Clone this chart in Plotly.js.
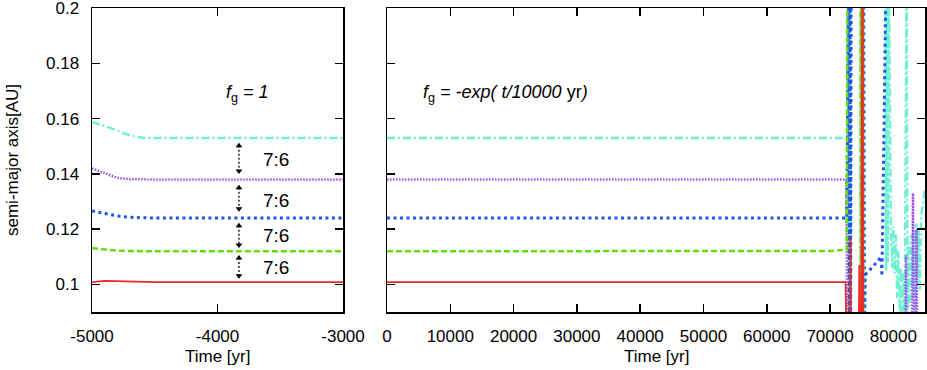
<!DOCTYPE html>
<html>
<head>
<meta charset="utf-8">
<script src="https://cdn.plot.ly/plotly-3.0.1.min.js"></script>
<style>
  html, body { margin: 0; padding: 0; background: #fff; }
  #chart { width: 927px; height: 370px; }
</style>
</head>
<body>
<div id="chart"></div>
<script>
/* ── data: left panel, f_g = 1 ─────────────────────────────── */
const tLeft = [-5000, -4900, -4800, -4700, -4600, -4500, -3000];
const aLeftRed    = [0.1008, 0.1013, 0.1012, 0.1010, 0.1009, 0.1008, 0.1008];
const aLeftGreen  = [0.1131, 0.1126, 0.1122, 0.1121, 0.1120, 0.1120, 0.1120];
const aLeftBlue   = [0.1266, 0.1256, 0.1248, 0.1243, 0.1241, 0.1240, 0.1240];
const aLeftPurple = [0.1420, 0.1402, 0.1386, 0.1381, 0.1380, 0.1380, 0.1380];
const aLeftCyan   = [0.1588, 0.1574, 0.1557, 0.1540, 0.1531, 0.1530, 0.1530];

/* ── data: right panel, f_g = -exp(t/10000 yr) ─────────────── */
const tRightRed = [0, 72450, 72560, 73150, 73200, 73260, 74550, 74620, 74680, 74950, 75020, 75060, 75100, 75140, 75180, 75220];
const aRightRed = [0.1008, 0.1008, 0.085, 0.085, 0.117, 0.085, 0.085, 0.107, 0.085, 0.085, 0.22, 0.088, 0.22, 0.088, 0.22, 0.085];

const tRightGreen = [0, 70000, 72550, 72650, 72750, 74800, 74850, 74900, 74950, 75000, 75050, 75100, 75150, 75200, 75250];
const aRightGreen = [0.1120, 0.1121, 0.1126, 0.1126, 0.22, 0.22, 0.085, 0.22, 0.085, 0.22, 0.085, 0.22, 0.085, 0.22, 0.085];

const tRightBlue = [0, 72560, 72650, 72950, 73050, 73150, 73250, 73350, 75300, 75350, 75400, 75450, 75550, 76800, 78080, 78200, 78900];
const aRightBlue = [0.1240, 0.1240, 0.1240, 0.22, 0.085, 0.22, 0.085, 0.22, 0.22, 0.085, 0.22, 0.085, 0.1035, 0.1065, 0.110, 0.103, 0.22];

const tRightPurple = [0, 72550, 72700, 74950, 75000, 75050, 75100, 75150, 75200, 75250, 81900, 82000, 82100, 82950, 83100, 83250, 83550, 83650, 83750];
const aRightPurple = [0.1380, 0.1380, 0.085, 0.085, 0.22, 0.085, 0.22, 0.085, 0.22, 0.085, 0.085, 0.1105, 0.085, 0.085, 0.133, 0.085, 0.085, 0.120, 0.085];

const tRightCyan = [0, 72700, 72800, 72950, 73100, 73250, 74800, 74850, 74950, 75050, 78700, 78850, 79000, 79150, 79300,
  79600, 79800, 80000, 80200, 80400, 80600, 80800, 81000, 81200, 81400, 81600, 81800, 82100, 82250,
  82400, 82600, 82800, 83000, 83200, 83400, 83600, 83800, 84000, 84200, 84400, 84600, 84800, 85000];
const aRightCyan = [0.1530, 0.1530, 0.22, 0.085, 0.22, 0.085, 0.085, 0.22, 0.085, 0.22, 0.22, 0.105, 0.22, 0.108, 0.22,
  0.123, 0.106, 0.121, 0.104, 0.118, 0.095, 0.112, 0.090, 0.106, 0.088, 0.104, 0.090, 0.22, 0.085,
  0.115, 0.092, 0.118, 0.095, 0.120, 0.090, 0.122, 0.100, 0.120, 0.098, 0.125, 0.128, 0.132, 0.135];

/* resonance arrows (left panel) */
const arrowX = -3829;
const arrowTop = [0.1511, 0.1359, 0.1221, 0.1105];
const arrowBottom = [0.1402, 0.1265, 0.1134, 0.1022];
const ratioLabels = ['7:6', '7:6', '7:6', '7:6'];
const ratioY = [0.1453, 0.1304, 0.1178, 0.1062];

const yTicks = [0.1, 0.12, 0.14, 0.16, 0.18, 0.2];
const yTickText = ['0.1', '0.12', '0.14', '0.16', '0.18', '0.2'];
const xLeftTicks = [-5000, -4000, -3000];
const xLeftTickText = ['-5000', '-4000', '-3000'];
const xRightTicks = [0, 10000, 20000, 30000, 40000, 50000, 60000, 70000, 80000];
const xRightTickText = ['0', '10000', '20000', '30000', '40000', '50000', '60000', '70000', '80000'];

const styles = {
  red:    { color: '#f22828', width: 1.8 },
  green:  { color: '#66dd11', width: 2.5, dash: '6px,3px' },
  blue:   { color: '#2255e8', width: 3, dash: '3px,3.5px' },
  purple: { color: '#a050ee', width: 2.5, dash: '1.5px,1.5px' },
  cyan:   { color: '#6ff2d2', width: 2.4, dash: '8px,3px,2px,3px' },
};

const FONT = 'Liberation Sans, Arial, Helvetica, sans-serif';

function line(x, y, style, xa, ya) {
  return { type: 'scatter', mode: 'lines', x, y, xaxis: xa, yaxis: ya,
    line: Object.assign({}, style), hoverinfo: 'skip', showlegend: false };
}

const data = [
  line(tLeft, aLeftCyan, styles.cyan, 'x', 'y'),
  line(tLeft, aLeftPurple, styles.purple, 'x', 'y'),
  line(tLeft, aLeftBlue, styles.blue, 'x', 'y'),
  line(tLeft, aLeftGreen, styles.green, 'x', 'y'),
  line(tLeft, aLeftRed, styles.red, 'x', 'y'),
  line(tRightCyan, aRightCyan, styles.cyan, 'x2', 'y2'),
  line(tRightPurple, aRightPurple, styles.purple, 'x2', 'y2'),
  line(tRightBlue, aRightBlue, styles.blue, 'x2', 'y2'),
  line(tRightGreen, aRightGreen, styles.green, 'x2', 'y2'),
  line(tRightRed, aRightRed, styles.red, 'x2', 'y2'),
];

// dotted double-headed arrows: shaft + small heads set just inside the tips
const headInset = 0.0009;
arrowTop.forEach((top, i) => {
  const bottom = arrowBottom[i];
  data.push({
    type: 'scatter', mode: 'lines', x: [arrowX, arrowX], y: [top - headInset, bottom + headInset],
    xaxis: 'x', yaxis: 'y', line: { color: '#000', width: 1.3, dash: '2px,2px' },
    hoverinfo: 'skip', showlegend: false,
  });
  data.push({
    type: 'scatter', mode: 'markers', x: [arrowX, arrowX], y: [top - headInset, bottom + headInset],
    xaxis: 'x', yaxis: 'y',
    marker: { symbol: ['triangle-up', 'triangle-down'], size: 6, color: '#000', line: { width: 0 } },
    hoverinfo: 'skip', showlegend: false,
  });
});

const axisCommon = {
  showline: true, linecolor: '#000', linewidth: 1.5, mirror: 'allticks',
  ticks: 'inside', ticklen: 8, tickwidth: 1.5, tickcolor: '#000',
  showgrid: false, zeroline: false, ticklabeloverflow: 'allow',
  tickfont: { family: FONT, size: 17, color: '#000' },
};

const annotations = ratioLabels.map((txt, i) => ({
  x: -3534, y: ratioY[i], xref: 'x', yref: 'y', text: txt, showarrow: false,
  xanchor: 'center', yanchor: 'middle', font: { family: FONT, size: 19, color: '#000' },
}));

annotations.push(
  { x: -3761, y: 0.1692, xref: 'x', yref: 'y', showarrow: false, xanchor: 'center', yanchor: 'middle',
    text: '<i>f</i><sub>g</sub><i> = 1</i>', font: { family: FONT, size: 18, color: '#000' } },
  { x: 18770, y: 0.1692, xref: 'x2', yref: 'y2', showarrow: false, xanchor: 'center', yanchor: 'middle',
    text: '<i>f</i><sub>g</sub><i> = -exp( t/10000 </i>yr<i>)</i>', font: { family: FONT, size: 18, color: '#000' } },
  { x: 0.5, y: -0.148, xref: 'x domain', yref: 'paper', showarrow: false, xanchor: 'center', yanchor: 'middle',
    text: 'Time [yr]', font: { family: FONT, size: 17, color: '#000' } },
  { x: 0.5, y: -0.148, xref: 'x2 domain', yref: 'paper', showarrow: false, xanchor: 'center', yanchor: 'middle',
    text: 'Time [yr]', font: { family: FONT, size: 17, color: '#000' } },
  { x: 12 / 927, y: 0.5, xref: 'paper', yref: 'paper', showarrow: false, xanchor: 'center', yanchor: 'middle',
    textangle: -90, text: 'semi-major axis[AU]', font: { family: FONT, size: 17, color: '#000' } },
);

const layout = {
  width: 927, height: 370,
  paper_bgcolor: '#fff', plot_bgcolor: '#fff',
  margin: { l: 0, r: 0, t: 8, b: 58 },
  showlegend: false,
  xaxis: Object.assign({}, axisCommon, {
    domain: [92 / 927, 343 / 927], range: [-5000, -3000],
    tickvals: xLeftTicks, ticktext: xLeftTickText, ticklabelstandoff: 8, anchor: 'y',
  }),
  yaxis: Object.assign({}, axisCommon, {
    range: [0.09, 0.2001], tickvals: yTicks, ticktext: yTickText, ticklabelstandoff: 8, anchor: 'x',
  }),
  xaxis2: Object.assign({}, axisCommon, {
    domain: [387 / 927, 925 / 927], range: [0, 85000],
    tickvals: xRightTicks, ticktext: xRightTickText, ticklabelstandoff: 8, anchor: 'y2',
  }),
  yaxis2: Object.assign({}, axisCommon, {
    range: [0.09, 0.2001], tickvals: yTicks, showticklabels: false, anchor: 'x2',
  }),
  annotations,
};

Plotly.newPlot('chart', data, layout, { displayModeBar: false, staticPlot: true });
</script>
</body>
</html>
